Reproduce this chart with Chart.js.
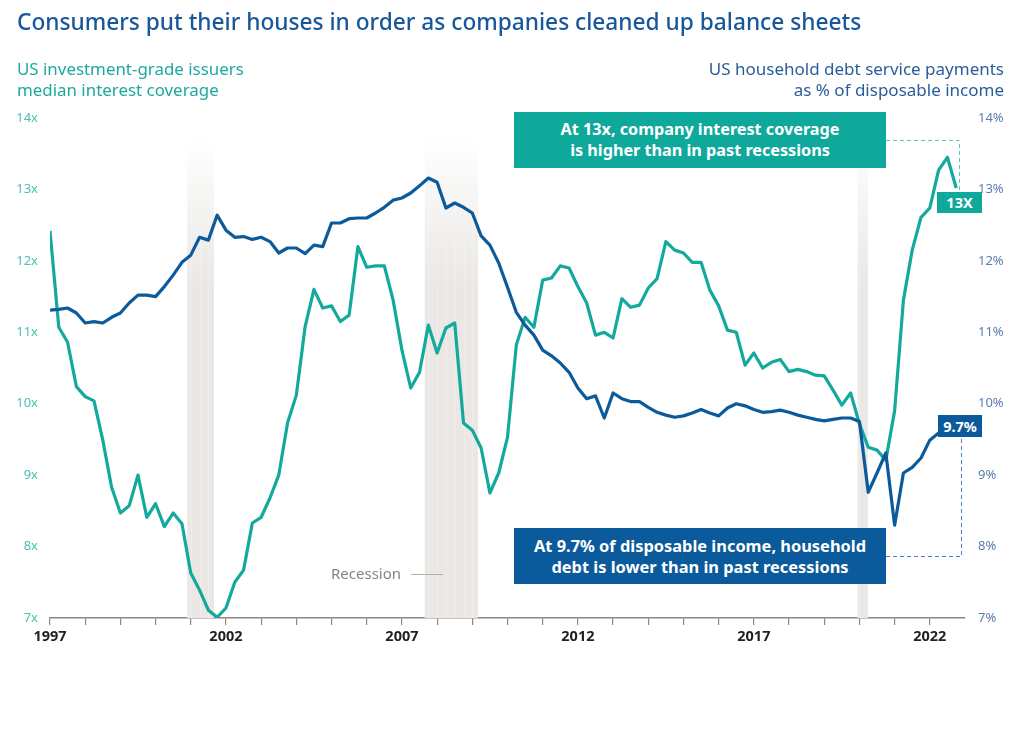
<!DOCTYPE html>
<html><head><meta charset="utf-8">
<script src="https://cdn.jsdelivr.net/npm/chart.js@4.4.1/dist/chart.umd.min.js"></script>
<style>
html,body{margin:0;padding:0;background:#fff;}
#wrap{position:relative;width:1024px;height:735px;font-family:"Noto Sans",Lato,sans-serif;overflow:hidden;}
canvas{position:absolute;left:0;top:0;}
.t{position:absolute;white-space:nowrap;}
.box{position:absolute;color:#fff;font-weight:700;text-align:center;box-sizing:border-box;}
</style></head><body>
<div id="wrap">
<canvas id="c" width="1024" height="735"></canvas>
<div class="t" style="left:17px;top:6px;font-size:22.7px;font-weight:500;color:#17579a;">Consumers put their houses in order as companies cleaned up balance sheets</div>
<div class="t" style="left:17px;top:58px;font-size:16.9px;line-height:21px;color:#1ea99e;">US investment-grade issuers<br>median interest coverage</div>
<div class="t" style="right:20px;top:58px;font-size:17px;line-height:21px;color:#2a5e9b;text-align:right;">US household debt service payments<br>as % of disposable income</div>
<div class="box" style="left:514px;top:112px;width:372px;height:56px;background:#0fa99c;font-size:16.2px;line-height:21px;padding-top:7px;">At 13x, company interest coverage<br>is higher than in past recessions</div>
<div class="box" style="left:937px;top:192px;width:45px;height:21px;background:#0fa99c;font-size:14.5px;line-height:21px;">13X</div>
<div class="box" style="left:514px;top:528px;width:372px;height:56px;background:#0b5a9b;font-size:16.4px;line-height:21px;padding-top:7px;">At 9.7% of disposable income, household<br>debt is lower than in past recessions</div>
<div class="box" style="left:938px;top:415px;width:44px;height:22px;background:#0b5a9b;font-size:14.5px;line-height:22px;">9.7%</div>
<div class="t" style="left:331px;top:563px;font-size:15px;color:#8c8480;">Recession</div>
</div>
<script>
const years = [1997,1998,1999,2000,2001,2002,2003,2004,2005,2006,2007,2008,2009,2010,2011,2012,2013,2014,2015,2016,2017,2018,2019,2020,2021,2022];
const coverage = [
 12.42,11.07,10.86,10.24, 10.10,10.04,9.49,8.83, 8.47,8.57,9.00,8.41, 8.60,8.28,8.47,8.32,
 7.63,7.39,7.11,7.01, 7.14,7.50,7.67,8.33, 8.41,8.68,9.00,9.73, 10.12,11.08,11.60,11.34,
 11.37,11.15,11.24,12.20, 11.91,11.93,11.93,11.45, 10.75,10.22,10.44,11.10, 10.71,11.06,11.13,9.73,
 9.63,9.38,8.75,9.03, 9.53,10.82,11.21,11.07, 11.73,11.76,11.93,11.90, 11.64,11.41,10.96,11.00,
 10.92,11.47,11.35,11.38, 11.62,11.75,12.27,12.15, 12.11,11.98,11.98,11.59, 11.37,11.03,11.00,10.54,
 10.71,10.50,10.58,10.62, 10.45,10.48,10.45,10.40, 10.39,10.19,9.98,10.15, 9.72,9.39,9.35,9.21,
 9.90,11.45,12.15,12.61, 12.74,13.27,13.45,13.02
];
const debtService = [
 11.31,11.32,11.34,11.27, 11.13,11.15,11.13,11.21, 11.27,11.41,11.52,11.52, 11.50,11.64,11.80,11.98,
 12.08,12.33,12.29,12.64, 12.43,12.33,12.34,12.30, 12.33,12.27,12.11,12.18, 12.18,12.10,12.22,12.20,
 12.53,12.53,12.59,12.60, 12.60,12.67,12.75,12.85, 12.88,12.95,13.05,13.16, 13.10,12.74,12.81,12.75,
 12.67,12.35,12.22,11.97, 11.63,11.28,11.10,10.96, 10.75,10.67,10.57,10.44, 10.22,10.07,10.11,9.80,
 10.15,10.07,10.03,10.03, 9.95,9.88,9.84,9.81, 9.83,9.87,9.92,9.87, 9.83,9.94,10.00,9.97,
 9.92,9.88,9.89,9.91, 9.88,9.84,9.81,9.78, 9.76,9.78,9.80,9.80, 9.75,8.76,9.03,9.31,
 8.30,9.03,9.11,9.24, 9.49,9.59,9.65,9.70
];
const recessions = [[2000.9,2001.66],[2007.65,2009.16],[2019.95,2020.24]];
const leftTicks = [7,8,9,10,11,12,13,14];
const labelYears = [1997,2002,2007,2012,2017,2022];

const quarterX = i => years[Math.floor(i/4)] + (i%4)*0.25;
const teal = '#13a99c', blue = '#0b5a9b';

const bandPlugin = {
  id:'bands',
  beforeDatasetsDraw(chart){
    const {ctx, chartArea:a, scales:{x}} = chart;
    ctx.save();
    recessions.forEach(([s,e])=>{
      const x0 = x.getPixelForValue(s), x1 = x.getPixelForValue(e);
      const g = ctx.createLinearGradient(0,a.top+20,0,a.top+170);
      g.addColorStop(0,'rgba(234,231,228,0)');
      g.addColorStop(1,'rgba(234,231,228,1)');
      ctx.fillStyle = g;
      ctx.fillRect(x0, a.top+20, x1-x0, a.bottom-a.top-20);
      ctx.strokeStyle='rgba(247,246,245,0.45)';
      ctx.lineWidth=1;
      for(let q=Math.ceil(s*4)/4; q<e; q+=0.25){
        const px=Math.round(x.getPixelForValue(q))+0.5;
        ctx.beginPath();ctx.moveTo(px,a.top+80);ctx.lineTo(px,a.bottom);ctx.stroke();
      }
    });
    ctx.restore();
  },
  afterDraw(chart){
    const {ctx} = chart;
    ctx.save();
    ctx.lineWidth=1;
    ctx.setLineDash([4,3]);
    ctx.strokeStyle='#5cc4ba';
    ctx.beginPath();ctx.moveTo(886,140.5);ctx.lineTo(959.5,140.5);ctx.lineTo(959.5,192);ctx.stroke();
    ctx.strokeStyle='#4f80b6';
    ctx.beginPath();ctx.moveTo(886,556.5);ctx.lineTo(961.5,556.5);ctx.lineTo(961.5,437);ctx.stroke();
    ctx.setLineDash([]);
    ctx.strokeStyle='#b5aeaa';
    ctx.beginPath();ctx.moveTo(411,574.5);ctx.lineTo(443,574.5);ctx.stroke();
    ctx.restore();
  }
};

new Chart(document.getElementById('c'), {
  type:'line',
  data:{datasets:[
    {label:'US household debt service payments', data:debtService.map((v,i)=>({x:quarterX(i),y:v})), yAxisID:'y2', borderColor:blue, borderWidth:3.2, pointRadius:0, tension:0, order:0, borderJoinStyle:'round'},
    {label:'US investment-grade issuers median interest coverage', data:coverage.map((v,i)=>({x:quarterX(i),y:v})), yAxisID:'y', borderColor:teal, borderWidth:3.2, pointRadius:0, tension:0, order:1, borderJoinStyle:'round'}
  ]},
  options:{
    responsive:false, animation:false,
    layout:{padding:{top:118,bottom:87,left:0,right:0}},
    plugins:{legend:{display:false},tooltip:{enabled:false}},
    scales:{
      x:{type:'linear',min:1997,max:2023,
        afterFit(s){s.height=30;},
        afterBuildTicks(s){s.ticks=[];for(let y=1997;y<=2023;y++)s.ticks.push({value:y});},
        ticks:{autoSkip:false,maxRotation:0,padding:3,color:'#222',font:{family:'Noto Sans',size:14.5,weight:'bold'},
          callback:v=>labelYears.includes(v)?String(v):''},
        grid:{drawOnChartArea:false,drawTicks:true,tickLength:7,lineWidth:1.2,
          color:c=>(c.tick&&c.tick.value===2023)?'rgba(0,0,0,0)':'#8f8682'},
        border:{color:'#8f8682',width:1.5}
      },
      y:{position:'left',min:7,max:14,
        afterFit(s){s.width=50;},
        afterBuildTicks(s){s.ticks=leftTicks.map(v=>({value:v}));},
        ticks:{padding:12,color:'#4fc1b6',font:{family:'Noto Sans',size:13},callback:v=>v+'x'},
        grid:{display:false,drawTicks:false},border:{display:false}
      },
      y2:{position:'right',min:7,max:14,
        afterFit(s){s.width=59;},
        afterBuildTicks(s){s.ticks=leftTicks.map(v=>({value:v}));},
        ticks:{padding:13,color:'#5b7eae',font:{family:'Noto Sans',size:13},callback:v=>v+'%'},
        grid:{display:false,drawTicks:false},border:{display:false}
      }
    }
  },
  plugins:[bandPlugin]
});
</script>
</body></html>
